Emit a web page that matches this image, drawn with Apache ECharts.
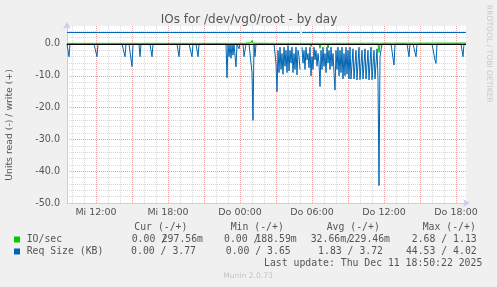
<!DOCTYPE html>
<html><head><meta charset="utf-8">
<script src="https://cdn.jsdelivr.net/npm/echarts@6/dist/echarts.min.js"></script>
<style>html,body{margin:0;padding:0;background:#f0f0f0}#c{width:497px;height:287px}</style>
</head><body><div id="c"></div>
<script>
// ---- time base: 5-minute samples from Mi 09:35 to Do 18:50 ----
const dayNames = ['Mi', 'Do'];
const startMinute = 575;   // Mi 09:35
const stepMinutes = 5;
const pointCount = 400;
const tickLabels = ['Mi 12:00', 'Mi 18:00', 'Do 00:00', 'Do 06:00', 'Do 12:00', 'Do 18:00'];

// ---- Req Size (KB), read side (drawn negative) ----
const reqSizeRead = [
  0,0,4,0,0,0,0,0,0,0,0,0,0,0,0,0,0,0,0,0,
  0,0,0,0,0,0,0,0,0,0,4,0,0,0,0,0,0,0,0,0,
  0,0,0,0,0,0,0,0,0,0,0,0,0,0,0,0,0,0,4,0,
  0,0,0,0,0,7.1,0,0,0,0,0,0,0,4,0,0,0,0,0,0,
  0,0,0,0,0,4,0,0,0,0,0,0,0,0,0,0,0,0,0,0,
  0,0,0,0,0,0,0,0,0,0,0,0,4,0,0,0,0,0,0,0,
  0,0,0,0,0,4,0,0,0,0,0,4,0,0,0,0,0,0,0,0,
  0,0,0,0,0,0,0,0,0,0,0,0,0,0,0,0,0,0,0,0,
  10.6,0,4,0,4.5,0,3.5,0,0,7.2,0,0,1.5,0,0,0,0,4,4,0,
  0,0,0,0,0,9,24,0,4,0,0,0,0,0,0,0,0,0,0,0,
  0,0,0,0,0,0,0,0,0,6,15,2,9,1,8,3,9.5,1,7,2,
  9,0.5,8.5,2,6,1,9,3,8,1,9.7,2,4,8,null,1,6,2,8,1,
  5,3,7.5,1,10,4,8,1,5,2,7,3,6,13.4,2,8,1,7,3,9,
  1,6,2,8,1,7,3,9,14.5,2,8,1,10,2,9,1,11,3,10,1,
  9.5,2,11,1,11,11.3,1.5,11,11.2,2,11.3,11,1,11.2,11,2,11,11.3,1.5,11,
  11.2,2,11.3,11,1,11.2,11,2,11,11.3,1.5,11,44.53,4,2,0,0,0,0,0,
  0,0,0,0,0,0,0,6.6,0,0,0,0,0,0,0,0,0,0,0,0,
  0,0,4,0,0,0,0,0,0,4,0,0,0,0,0,0,0,0,0,0,
  0,0,0,0,0,0,0,0,5,6.1,0,0,0,0,0,0,0,0,0,0,
  0,0,0,0,0,0,0,0,0,0,0,0,0,0,0,0,4,0,0,0
];
// ---- Req Size (KB), write side: [sample index, value] ----
const reqSizeWrite = [
  [0,3.62],[183,3.62],[184,3.9],[185,3.62],[211,3.62],[212,3.8],[213,3.62],
  [233,3.62],[234,null],[235,3.6],[252,3.6],[253,3.75],[254,3.6],[260,3.6],
  [261,3.75],[262,3.6],[399,3.62]
];
// ---- IO/sec, write side ----
const ioWrite = [
  [0,0.2],[176,0.2],[177,0.5],[178,0.2],[184,0.4],[185,1.13],[186,0.25],
  [209,0.2],[210,0.45],[211,0.2],[243,0.2],[244,0.55],[245,0.2],[252,0.2],
  [253,0.8],[254,0.2],[260,0.2],[261,0.5],[262,0.2],[399,0.3]
];
// ---- IO/sec, read side (drawn negative) ----
const ioRead = [
  [0,0],[184,0],[185,0.4],[186,0],[209,0],[210,0.5],[211,0],[243,0],[244,0.8],
  [245,0],[252,0],[253,1.4],[254,0],[260,0],[261,1.3],[262,0],[311,0],[312,2.68],
  [313,0],[399,0]
];

const pad = n => String(n).padStart(2, '0');
const categories = [];
for (let i = 0; i < pointCount; i++) {
  const m = startMinute + stepMinutes * i;
  categories.push(dayNames[Math.floor(m / 1440)] + ' ' + pad(Math.floor((m % 1440) / 60)) + ':' + pad(m % 60));
}
const isHour = v => v.slice(-2) === '00';
const isMajor = v => isHour(v) && (parseInt(v.slice(-5, -3), 10) % 3 === 0);

const BLUE = '#0066b3', GREEN = '#00cc00';
const TXT = '#555555';
const SANS = 'DejaVu Sans';
const MONO = '"DejaVu Sans Mono"';
const yMin = -50, yMax = 5.66;

const chart = echarts.init(document.getElementById('c'), null, {renderer: 'canvas'});

function t(x, y, text, opts) {
  opts = opts || {};
  return {
    type: 'text', x: x, y: y, rotation: opts.rot || 0, z: 100,
    style: {
      text: text, fill: opts.color || TXT, font: opts.font || ('9.8px ' + MONO),
      align: opts.align || 'left', verticalAlign: 'middle'
    }
  };
}
const graphics = [
  t(249, 19.5, 'IOs for /dev/vg0/root - by day', {align: 'center', font: '12px ' + SANS}),
  t(10, 125, 'Units read (-) / write (+)', {align: 'center', rot: Math.PI / 2, font: '9.3px ' + SANS}),
  t(489, 5, 'RRDTOOL / TOBI OETIKER', {align: 'left', rot: -Math.PI / 2, font: '7.6px ' + SANS, color: '#c8c8c8'}),
  t(134.3, 227.7, 'Cur (-/+)'),
  t(230.7, 227.7, 'Min (-/+)'),
  t(326.7, 227.7, 'Avg (-/+)'),
  t(422.7, 227.7, 'Max (-/+)'),
  {type: 'rect', shape: {x: 14, y: 236.5, width: 6, height: 6}, style: {fill: GREEN}, z: 100},
  t(26.7, 239.3, 'IO/sec'),
  t(131.7, 239.3, '0.00 /'),
  t(203, 239.3, '297.56m', {align: 'right'}),
  t(224, 239.3, '0.00 /'),
  t(296.7, 239.3, '188.59m', {align: 'right'}),
  t(310.7, 239.3, '32.66m/'),
  t(390, 239.3, '229.46m', {align: 'right'}),
  t(476.7, 239.3, '2.68 / 1.13', {align: 'right'}),
  {type: 'rect', shape: {x: 14, y: 248.5, width: 6, height: 6}, style: {fill: BLUE}, z: 100},
  t(26.7, 251.7, 'Req Size (KB)'),
  t(196, 251.7, '0.00 / 3.77', {align: 'right'}),
  t(290.7, 251.7, '0.00 / 3.65', {align: 'right'}),
  t(383, 251.7, '1.83 / 3.72', {align: 'right'}),
  t(476.7, 251.7, '44.53 / 4.02', {align: 'right'}),
  t(482.3, 263.7, 'Last update: Thu Dec 11 18:50:22 2025', {align: 'right'}),
  t(248, 276, 'Munin 2.0.73', {align: 'center', font: '7.6px ' + SANS, color: '#c4c4c4'})
];

const axisLineColor = '#c8cef0';
const option = {
  animation: false,
  backgroundColor: '#f0f0f0',
  grid: {left: 67, right: 31, top: 26, bottom: 84, show: true, backgroundColor: '#ffffff', borderWidth: 0},
  xAxis: [
    { // minor hourly grid
      type: 'category', data: categories, boundaryGap: false, position: 'bottom',
      axisLine: {show: false}, axisTick: {show: false}, axisLabel: {show: false},
      splitLine: {show: true, interval: (i, v) => isHour(v), lineStyle: {color: '#d8d8d8', type: [1, 1], width: 1}}
    },
    { // major 3-hourly grid + labels
      type: 'category', data: categories, boundaryGap: false, position: 'bottom', z: 1,
      axisLine: {show: true, onZero: false, lineStyle: {color: axisLineColor, width: 1}, symbol: ['none', 'arrow'], symbolSize: [6, 7], symbolOffset: [0, 4]},
      axisTick: {show: false},
      axisLabel: {show: true, interval: (i, v) => tickLabels.indexOf(v) >= 0, formatter: v => v,
        color: TXT, fontFamily: SANS, fontSize: 9.5, margin: 5},
      splitLine: {show: true, interval: (i, v) => isMajor(v), lineStyle: {color: '#eaa4a4', type: [1, 1], width: 1}}
    }
  ],
  yAxis: [
    { // minor grid every 2
      type: 'value', min: yMin, max: yMax, interval: 2, position: 'left',
      axisLine: {show: false}, axisTick: {show: false}, axisLabel: {show: false},
      splitLine: {show: true, showMaxLine: false, showMinLine: false, lineStyle: {color: '#d8d8d8', type: [1, 1], width: 1}}
    },
    { // major grid every 10 + labels
      type: 'value', min: yMin, max: yMax, interval: 10, position: 'left', z: 1,
      axisLine: {show: true, onZero: false, lineStyle: {color: axisLineColor, width: 1}, symbol: ['none', 'arrow'], symbolSize: [6, 7], symbolOffset: [0, 4]},
      axisTick: {show: false},
      axisLabel: {show: true, showMaxLabel: false, formatter: v => v.toFixed(1), color: TXT, fontFamily: SANS, fontSize: 9.6, margin: 7},
      splitLine: {show: true, showMaxLine: false, showMinLine: false, lineStyle: {color: '#eaa4a4', type: [1, 1], width: 1}}
    },
    { // zero rule
      type: 'value', min: yMin, max: yMax, interval: 50, position: 'left', z: 6,
      axisLine: {show: false}, axisTick: {show: false}, axisLabel: {show: false},
      splitLine: {show: true, showMaxLine: false, showMinLine: false, lineStyle: {color: '#000000', type: 'solid', width: 1}}
    }
  ],
  series: [
    {type: 'line', name: 'Req Size read', data: reqSizeRead.map(v => v === null ? '-' : -v),
      symbol: 'none', lineStyle: {color: BLUE, width: 1}, itemStyle: {color: BLUE}, z: 2, connectNulls: false},
    {type: 'line', name: 'Req Size write', data: reqSizeWrite.map(p => [p[0], p[1] === null ? '-' : p[1]]),
      symbol: 'none', lineStyle: {color: BLUE, width: 1}, itemStyle: {color: BLUE}, z: 2, connectNulls: false},
    {type: 'line', name: 'IO/sec write', data: ioWrite.map(p => [p[0], p[1]]),
      symbol: 'none', lineStyle: {color: GREEN, width: 1}, itemStyle: {color: GREEN}, z: 3},
    {type: 'line', name: 'IO/sec read', data: ioRead.map(p => [p[0], -p[1]]),
      symbol: 'none', lineStyle: {color: GREEN, width: 1}, itemStyle: {color: GREEN}, z: 3}
  ],
  graphic: graphics
};
chart.setOption(option);
</script>
</body></html>
